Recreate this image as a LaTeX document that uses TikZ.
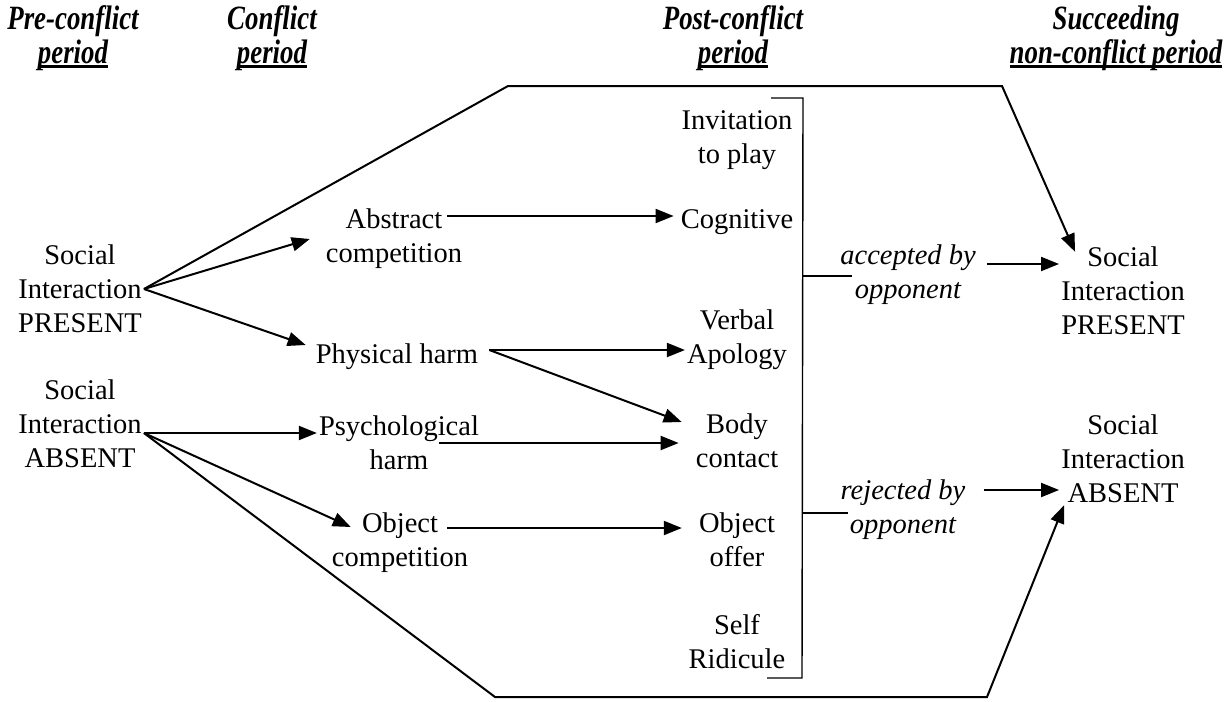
\documentclass[tikz,border=0pt]{standalone}
\usepackage{fontspec}
\setmainfont{Liberation Serif}
\newfontfamily\hdfont{Liberation Serif}[FakeStretch=0.79]
\usetikzlibrary{arrows.meta}
\newcommand{\perul}[1]{\setbox0\hbox{#1}\rlap{\raisebox{-5pt}{\rule{\wd0}{3pt}}}\box0}

\begin{document}
\begin{tikzpicture}[x=1pt,y=-1pt,
	txt/.style={font=\fontsize{28.5}{34}\selectfont, align=center, inner sep=2pt},
	hdr/.style={txt, font=\hdfont\fontsize{34}{34}\selectfont\bfseries\itshape},
	link/.style={line width=2pt, -{Triangle[length=18pt,width=14pt]}},
	rim/.style={line width=1.4pt}]
	    \useasboundingbox (0,0) rectangle (1228,701);
	    \node[hdr] (hpre) at (73,38) {Pre-conflict\\\perul{period}};
	    \node[hdr] (hcon) at (272,38) {Conflict\\\perul{period}};
	    \node[hdr] (hpost) at (733,38) {Post-conflict\\\perul{period}};
	    \node[hdr] (hsucc) at (1116,38) {Succeeding\\\perul{non-conflict period}};
	    \node[txt] (spres) at (80,289) {Social\\Interaction\\PRESENT};
	    \node[txt] (sabs) at (80,424) {Social\\Interaction\\ABSENT};
	    \node[txt] (abst) at (394,239) {Abstract\\competition};
	    \node[txt] (phys) at (397,357) {Physical harm};
	    \node[txt] (psych) at (399,443) {Psychological\\harm};
	    \node[txt] (objc) at (400,543) {Object\\competition};
	    \node[txt] (invit) at (737,140) {Invitation\\to play};
	    \node[txt] (cogn) at (737,222) {Cognitive};
	    \node[txt] (verb) at (737,340) {Verbal\\Apology};
	    \node[txt] (body) at (737,441) {Body\\contact};
	    \node[txt] (offer) at (737,540) {Object\\offer};
	    \node[txt] (self) at (737,642) {Self\\Ridicule};
	    \node[txt,font=\fontsize{28.5}{34}\selectfont\itshape] (acc) at (908,275) {accepted by\\opponent};
	    \node[txt,font=\fontsize{28.5}{34}\selectfont\itshape] (rej) at (903,510) {rejected by\\opponent};
	    \node[txt] (rpres) at (1123,291) {Social\\Interaction\\PRESENT};
	    \node[txt] (rabs) at (1123,459) {Social\\Interaction\\ABSENT};
	    \coordinate (tl) at (508,86);
	    \coordinate (tr) at (1002,86);
	    \coordinate (bl) at (495,697);
	    \coordinate (br) at (987,697);
	    \coordinate (sabsout) at ([yshift=-9pt]sabs.east);
	    \coordinate (abstout) at ([xshift=-17pt,yshift=23pt]abst.east);
	    \coordinate (physout) at ([xshift=9pt,yshift=7pt]phys.east);
	    \coordinate (psychout) at ([xshift=-42pt]psych.east);
	    \coordinate (objcout) at ([xshift=-23pt,yshift=15pt]objc.east);
	    \coordinate (accout) at ([xshift=9pt,yshift=11pt]acc.east);
	    \coordinate (rejout) at ([xshift=16pt,yshift=20pt]rej.east);
	    \draw[link] (spres.east) -- ([xshift=-14pt]abst.west);
	    \draw[link] (spres.east) -- ([xshift=-8pt,yshift=12pt]phys.west);
	    \draw[link] (spres.east) -- (tl) -- (tr) -- ([xshift=16pt,yshift=-7pt]rpres.north west);
	    \draw[link] (sabsout) -- (sabsout -| psych.west);
	    \draw[link] (sabsout) -- ([xshift=21pt,yshift=16pt]objc.west);
	    \draw[link] (sabsout) -- (bl) -- (br) -- ([xshift=5pt]rabs.south west);
	    \draw[link,shorten >=5pt] (abstout) -- (abstout -| cogn.west);
	    \draw[link] (physout) -- (physout -| verb.west);
	    \draw[link] (physout) -- ([xshift=-12pt,yshift=19pt]body.west);
	    \draw[link,shorten >=15pt] (psychout) -- (psychout -| body.west);
	    \draw[link,shorten >=15pt] (objcout) -- (objcout -| offer.west);
	    \draw[link] (accout) -- (accout -| rpres.west);
	    \draw[link] (rejout) -- (rejout -| rabs.west);
	    \draw[rim] (771,98) -- (803,98) -- (802,678) -- (767,678);
	    \draw[rim] (803,276) -- (852,276);
	    \draw[rim] (803,513) -- (848,513);
	  \end{tikzpicture}
\end{document}
